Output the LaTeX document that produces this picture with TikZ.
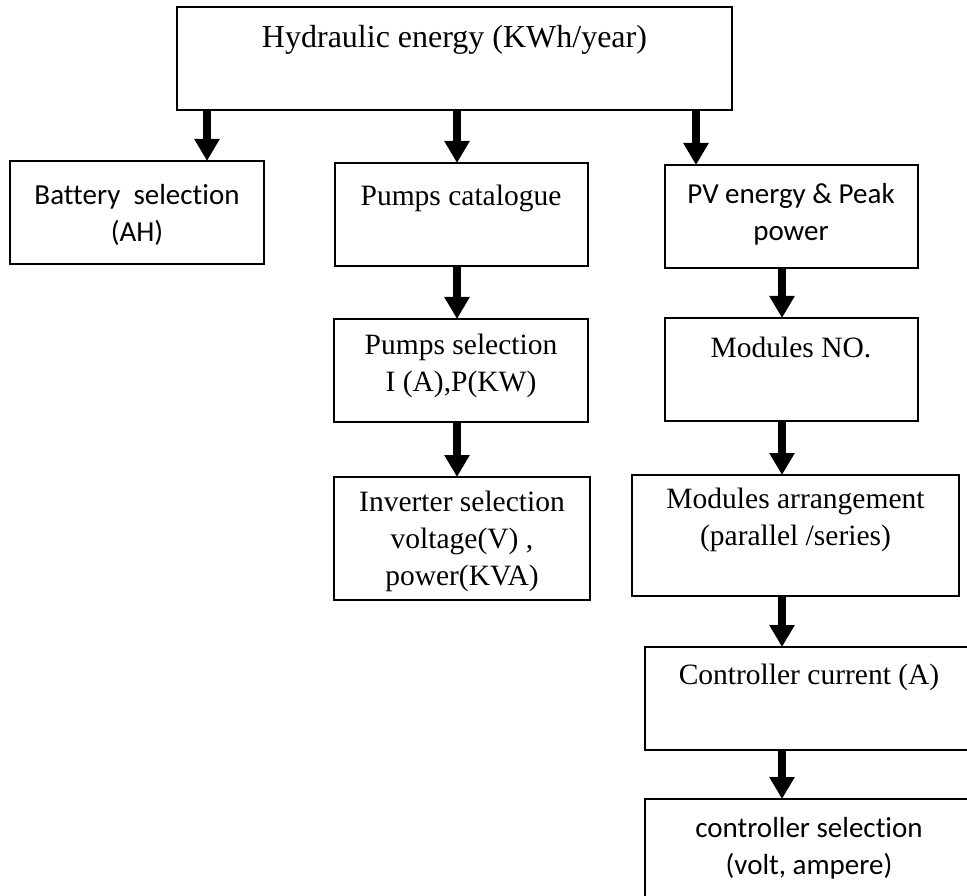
\documentclass[tikz,border=0pt]{standalone}
\usepackage{fontspec}
\setmainfont{Liberation Serif}
\newfontfamily\calibri[Ligatures=NoCommon]{Carlito}
\usetikzlibrary{arrows.meta}
\tikzset{
  box/.style={draw=black, line width=1.5pt, rectangle, anchor=north west, inner sep=0pt, outer sep=0pt},
  serif/.style={font=\fontsize{29.5}{37}\selectfont, align=center, inner sep=0pt},
  sans/.style={font=\calibri\fontsize{29}{37}\selectfont, align=center, inner sep=0pt},
  arr/.style={line width=8pt, -{Triangle[width=24pt,length=22pt]}, shorten >=0pt}
}
\begin{document}
\begin{tikzpicture}[x=1pt,y=-1pt]
\useasboundingbox (0,0) rectangle (967,896);
\clip (0,0) rectangle (967,896);
\fill[white] (0,0) rectangle (967,896);
% boxes
\node[box, minimum width=555pt, minimum height=103pt] (top) at (177,7) {};
\node[box, minimum width=254pt, minimum height=103pt] (bat) at (10,161) {};
\node[box, minimum width=253pt, minimum height=103pt] (cat) at (335,163) {};
\node[box, minimum width=253pt, minimum height=103pt] (pv) at (665,165) {};
\node[box, minimum width=254pt, minimum height=103pt] (psel) at (334,319) {};
\node[box, minimum width=253pt, minimum height=103pt] (mno) at (665,318) {};
\node[box, minimum width=256pt, minimum height=123pt] (inv) at (334,477) {};
\node[box, minimum width=327pt, minimum height=121pt] (marr) at (632,475) {};
\node[box, minimum width=330pt, minimum height=103pt] (ccur) at (645,647) {};
\node[box, minimum width=330pt, minimum height=130pt] (csel) at (645,799) {};
% texts
\node[serif, font=\fontsize{32}{37}\selectfont] (ttop) at (454.5,40) {Hydraulic energy (KWh/year)};
\node[sans] (tbat) at (137,215) {Battery\ \ selection\\(AH)};
\node[serif] (tcat) at (461,198) {Pumps catalogue};
\node[sans] (tpv) at (791,214) {PV energy \& Peak\\power};
\node[serif] (tpsel) at (461,366) {Pumps selection\\I (A),P(KW)};
\node[serif] (tmno) at (791,347) {Modules NO.};
\node[serif] (tinv) at (462,541) {Inverter selection\\voltage(V) ,\\power(KVA)};
\node[serif] (tmarr) at (795.5,520) {Modules arrangement\\(parallel /series)};
\node[serif] (tccur) at (809,677) {Controller current (A)};
\node[sans] (tcsel) at (809,848) {controller selection\\(volt, ampere)};
% arrows
\draw[arr] (top.south -| 207,0) -- (bat.north -| 207,0);
\draw[arr] (top.south -| 457,0) -- (cat.north -| 457,0);
\draw[arr] (top.south -| 696,0) -- (pv.north -| 696,0);
\draw[arr] (cat.south -| 457,0) -- (psel.north -| 457,0);
\draw[arr] (psel.south -| 457,0) -- (inv.north -| 457,0);
\draw[arr] (pv.south -| 782,0) -- (mno.north -| 782,0);
\draw[arr] (mno.south -| 782,0) -- (marr.north -| 782,0);
\draw[arr] (marr.south -| 782,0) -- (ccur.north -| 782,0);
\draw[arr] (ccur.south -| 782,0) -- (csel.north -| 782,0);
\end{tikzpicture}
\end{document}
